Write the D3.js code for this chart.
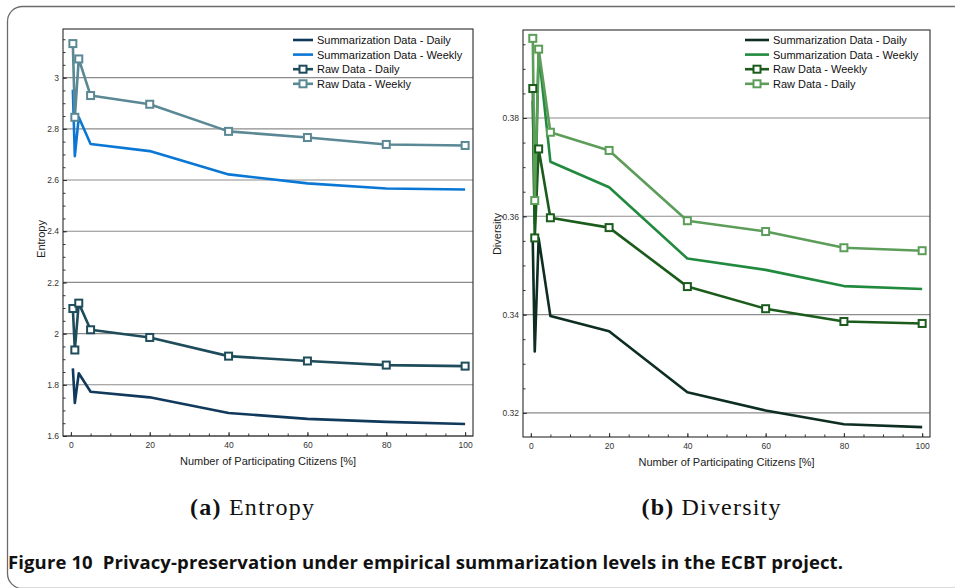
<!DOCTYPE html>
<html>
<head>
<meta charset="utf-8">
<script src="https://cdn.jsdelivr.net/npm/d3@7"></script>
<style>
  html, body { margin: 0; padding: 0; background: #fff; }
  svg { display: block; }
  .tick text { font-family: "Liberation Sans", Arial, sans-serif; }
</style>
</head>
<body>
<svg id="fig" width="955" height="588"></svg>
<script>
// Share of participating citizens (x values shared by all series)
const participation = [0.5, 1, 2, 5, 20, 40, 60, 80, 100];

// (a) Entropy
const entropySummDaily  = [1.864, 1.729, 1.845, 1.773, 1.751, 1.690, 1.667, 1.655, 1.647];
const entropySummWeekly = [2.953, 2.693, 2.845, 2.741, 2.713, 2.622, 2.587, 2.567, 2.563];
const entropyRawDaily   = [2.098, 1.936, 2.119, 2.015, 1.985, 1.912, 1.893, 1.877, 1.873];
const entropyRawWeekly  = [3.133, 2.845, 3.073, 2.930, 2.896, 2.790, 2.766, 2.739, 2.735];

// (b) Diversity
const diversitySummDaily  = [0.3548, 0.3325, 0.3555, 0.3397, 0.3366, 0.3242, 0.3205, 0.3177, 0.3171];
const diversitySummWeekly = [0.3835, 0.3585, 0.3935, 0.3711, 0.3659, 0.3514, 0.3491, 0.3458, 0.3452];
const diversityRawWeekly  = [0.3860, 0.3556, 0.3737, 0.3597, 0.3577, 0.3457, 0.3412, 0.3386, 0.3382];
const diversityRawDaily   = [0.3962, 0.3632, 0.3940, 0.3771, 0.3734, 0.3591, 0.3569, 0.3536, 0.3530];

// Tick values
const xMajorTicks = [0, 20, 40, 60, 80, 100];
const entropyTicks = [1.6, 1.8, 2, 2.2, 2.4, 2.6, 2.8, 3];
const diversityTicks = [0.32, 0.34, 0.36, 0.38];

const xTitle = "Number of Participating Citizens [%]";

const svg = d3.select("#fig");
const SANS = '"Liberation Sans", Arial, Helvetica, sans-serif';

// Outer figure frame
svg.append("rect")
  .attr("x", 7.5).attr("y", 6.5)
  .attr("width", 970).attr("height", 582)
  .attr("rx", 15).attr("ry", 15)
  .attr("fill", "none").attr("stroke", "#6b6b6b").attr("stroke-width", 1.3);

function drawPanel(cfg) {
  const g = svg.append("g");
  const x = d3.scaleLinear().domain([-2, 102]).range([cfg.left, cfg.right]);
  const y = d3.scaleLinear().domain(cfg.yDomain).range([cfg.bottom, cfg.top]);

  // Horizontal grid lines at the major y ticks
  g.append("g").selectAll("line")
    .data(cfg.yTicks)
    .join("line")
    .attr("x1", cfg.left).attr("x2", cfg.right)
    .attr("y1", d => y(d)).attr("y2", d => y(d))
    .attr("stroke", "#8c8c8c").attr("stroke-width", 1.1);

  // Minor ticks
  const yMinor = d3.range(cfg.yDomain[0], cfg.yDomain[1], cfg.yMinorStep)
    .map(v => Math.round(v / cfg.yMinorStep) * cfg.yMinorStep)
    .filter(v => v >= cfg.yDomain[0] - 1e-9 && v <= cfg.yDomain[1]);
  const xMinor = d3.range(0, 101, 5);

  // Axes (ticks pointing inward)
  const yAxis = d3.axisLeft(y).tickValues(cfg.yTicks).tickSize(-4).tickPadding(4)
    .tickFormat(cfg.yFormat);
  const gy = g.append("g").attr("transform", `translate(${cfg.left},0)`).call(yAxis);
  gy.select(".domain").remove();
  gy.selectAll(".tick line").attr("stroke", "#333");
  gy.selectAll(".tick text").attr("font-size", 8.5).attr("fill", "#333");

  const gyMinor = g.append("g").attr("transform", `translate(${cfg.left},0)`)
    .call(d3.axisLeft(y).tickValues(yMinor).tickSize(-2.5).tickFormat(""));
  gyMinor.select(".domain").remove();
  gyMinor.selectAll(".tick line").attr("stroke", "#333");

  const xAxis = d3.axisBottom(x).tickValues(xMajorTicks).tickSize(-4).tickPadding(6);
  const gx = g.append("g").attr("transform", `translate(0,${cfg.bottom})`).call(xAxis);
  gx.select(".domain").remove();
  gx.selectAll(".tick line").attr("stroke", "#333");
  gx.selectAll(".tick text").attr("font-size", 8.5).attr("fill", "#333");

  const gxMinor = g.append("g").attr("transform", `translate(0,${cfg.bottom})`)
    .call(d3.axisBottom(x).tickValues(xMinor).tickSize(-2.5).tickFormat(""));
  gxMinor.select(".domain").remove();
  gxMinor.selectAll(".tick line").attr("stroke", "#333");

  // Plot frame
  g.append("rect")
    .attr("x", cfg.left).attr("y", cfg.top)
    .attr("width", cfg.right - cfg.left).attr("height", cfg.bottom - cfg.top)
    .attr("fill", "none").attr("stroke", "#2b2b2b").attr("stroke-width", 1.1);

  // Axis titles
  g.append("text")
    .attr("x", (x(0) + x(100)) / 2).attr("y", cfg.bottom + 29)
    .attr("text-anchor", "middle")
    .attr("font-family", SANS).attr("font-size", 11).attr("fill", "#222")
    .text(xTitle);
  g.append("text")
    .attr("transform", `translate(${cfg.yTitleX},${cfg.yTitleY}) rotate(-90)`)
    .attr("text-anchor", "middle")
    .attr("font-family", SANS).attr("font-size", 11).attr("fill", "#222")
    .text(cfg.yTitle);

  // Series lines
  const line = d3.line().x((d, i) => x(participation[i])).y(d => y(d));
  cfg.series.forEach(s => {
    g.append("path").datum(s.values)
      .attr("d", line)
      .attr("fill", "none").attr("stroke", s.color)
      .attr("stroke-width", 2.6).attr("stroke-linejoin", "round");
  });
  // Square markers
  cfg.series.filter(s => s.marker).forEach(s => {
    g.append("g").selectAll("rect")
      .data(s.values)
      .join("rect")
      .attr("x", (d, i) => x(participation[i]) - 3.5)
      .attr("y", d => y(d) - 3.5)
      .attr("width", 7).attr("height", 7)
      .attr("fill", "#fff").attr("stroke", s.color).attr("stroke-width", 2);
  });

  // Legend
  const lg = g.append("g");
  cfg.series.forEach((s, i) => {
    const ly = cfg.legendY + i * 14.6;
    lg.append("line")
      .attr("x1", cfg.legendX).attr("x2", cfg.legendX + cfg.legendLen)
      .attr("y1", ly).attr("y2", ly)
      .attr("stroke", s.color).attr("stroke-width", 2.6);
    if (s.marker) {
      lg.append("rect")
        .attr("x", cfg.legendX + cfg.legendLen / 2 - 3.5).attr("y", ly - 3.5)
        .attr("width", 7).attr("height", 7)
        .attr("fill", "#fff").attr("stroke", s.color).attr("stroke-width", 2);
    }
    lg.append("text")
      .attr("x", cfg.legendX + cfg.legendLen + 4).attr("y", ly + 4)
      .attr("font-family", SANS).attr("font-size", 11).attr("fill", "#111")
      .text(s.name);
  });

  // Sub-caption
  const cap = svg.append("text")
    .attr("x", cfg.captionX).attr("y", 515)
    .attr("text-anchor", "middle")
    .attr("font-family", '"Liberation Serif", "Times New Roman", serif')
    .attr("font-size", 24).attr("fill", "#111")
    .attr("textLength", cfg.captionWidth).attr("lengthAdjust", "spacing");
  cap.append("tspan").attr("font-weight", "bold").text(cfg.captionTag);
  cap.append("tspan").attr("dx", 7).text(cfg.captionText);
}

drawPanel({
  left: 63, right: 473, top: 29, bottom: 436,
  yDomain: [1.6, 3.19], yTicks: entropyTicks, yMinorStep: 0.05,
  yFormat: d => String(+d.toFixed(1)),
  yTitle: "Entropy", yTitleX: 45, yTitleY: 239,
  legendX: 293, legendLen: 20, legendY: 40,
  captionX: 252, captionWidth: 124, captionTag: "(a)", captionText: "Entropy",
  series: [
    { name: "Summarization Data - Daily",  values: entropySummDaily,  color: "#10395c", marker: false },
    { name: "Summarization Data - Weekly", values: entropySummWeekly, color: "#0b77d5", marker: false },
    { name: "Raw Data - Daily",            values: entropyRawDaily,   color: "#1f4c5a", marker: true },
    { name: "Raw Data - Weekly",           values: entropyRawWeekly,  color: "#5a8894", marker: true }
  ]
});

drawPanel({
  left: 523, right: 930, top: 30, bottom: 437,
  yDomain: [0.3151, 0.3979], yTicks: diversityTicks, yMinorStep: 0.005,
  yFormat: d => d.toFixed(2),
  yTitle: "Diversity", yTitleX: 501, yTitleY: 234,
  legendX: 745, legendLen: 24, legendY: 40,
  captionX: 711, captionWidth: 139, captionTag: "(b)", captionText: "Diversity",
  series: [
    { name: "Summarization Data - Daily",  values: diversitySummDaily,  color: "#0d2e20", marker: false },
    { name: "Summarization Data - Weekly", values: diversitySummWeekly, color: "#218a3f", marker: false },
    { name: "Raw Data - Weekly",           values: diversityRawWeekly,  color: "#1b5c1d", marker: true },
    { name: "Raw Data - Daily",            values: diversityRawDaily,   color: "#5c9d5a", marker: true }
  ]
});

// Figure caption
const figCap = svg.append("text")
  .attr("x", 8).attr("y", 569)
  .attr("font-family", '"Open Sans", "Noto Sans", sans-serif')
  .attr("font-weight", "bold").attr("font-size", 18.5).attr("fill", "#111")
  .attr("textLength", 835).attr("lengthAdjust", "spacing");
figCap.append("tspan").text("Figure 10");
figCap.append("tspan").attr("dx", 10).text("Privacy-preservation under empirical summarization levels in the ECBT project.");
</script>
</body>
</html>
